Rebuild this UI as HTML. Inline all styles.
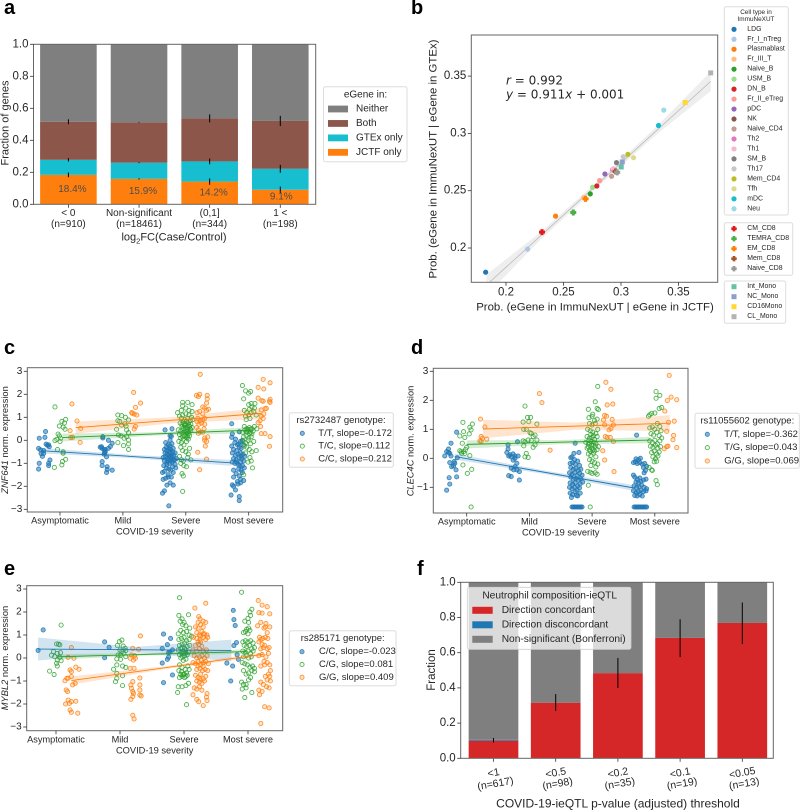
<!DOCTYPE html>
<html lang="en">
<head>
<meta charset="utf-8">
<title>Multi-panel eGene and ieQTL figure</title>
<style>
html,body{margin:0;padding:0;background:#fff;}
svg{display:block;font-family:"Liberation Sans",Arial,sans-serif;}
text{fill:#262626;}
.letter{font-weight:700;font-size:20px;fill:#000;}
</style>
</head>
<body>
<svg id="figure" xmlns="http://www.w3.org/2000/svg" width="800" height="810" viewBox="0 0 800 810">
  <rect x="0" y="0" width="800" height="810" fill="#fff"/>
  <text class="letter" x="4" y="14">a</text>
  <text class="letter" x="411" y="14">b</text>
  <text class="letter" x="4" y="354">c</text>
  <text class="letter" x="411" y="354">d</text>
  <text class="letter" x="4" y="575">e</text>
  <text class="letter" x="417" y="575">f</text>
</svg>
<script>
/* ---------- panel a data ---------- */
const aCategories = ['< 0','Non-significant','(0,1]','1 <'];
const aCounts = ['(n=910)','(n=18461)','(n=344)','(n=198)'];
const aJctfOnly = [0.184,0.159,0.142,0.091];
const aGtexOnly = [0.094,0.101,0.126,0.131];
const aBoth = [0.238,0.253,0.269,0.299];
const aErrJctf = [0.015,0.004,0.02,0.02];
const aErrGtex = [0.011,0.003,0.018,0.025];
const aErrBoth = [0.015,0.002,0.025,0.032];
const aPercentLabels = ['18.4%','15.9%','14.2%','9.1%'];
const aTickLabels = ['0.0','0.2','0.4','0.6','0.8','1.0'];
const aTicks = [0,0.2,0.4,0.6,0.8,1];
const aLegend = ['Neither','Both','GTEx only','JCTF only'];

/* ---------- panel b data ---------- */
const bCellTypes = ['LDG','Fr_I_nTreg','Plasmablast','Fr_III_T','Naive_B','USM_B','DN_B','Fr_II_eTreg','pDC','NK','Naive_CD4','Th2','Th1','SM_B','Th17','Mem_CD4','Tfh','mDC','Neu'];
const bCellX = [.1823,.2188,.2431,.2677,.2733,.2753,.279,.2814,.286,.2947,.2918,.2927,.2933,.2961,.3019,.306,.3109,.3326,.3372];
const bCellY = [.1789,.199,.2278,.244,.2472,.253,.2541,.2588,.2646,.2672,.2626,.2684,.2692,.2745,.2797,.2817,.2788,.3069,.3203];
const bCd8Types = ['CM_CD8','TEMRA_CD8','EM_CD8','Mem_CD8','Naive_CD8'];
const bCd8X = [.2313,.2585,.2692,.2953,.2967];
const bCd8Y = [.2139,.231,.2429,.2669,.266];
const bMonoTypes = ['Int_Mono','NC_Mono','CD16Mono','CL_Mono'];
const bMonoX = [.3002,.3011,.3558,.378];
const bMonoY = [.2707,.2751,.327,.3528];
const bFitSlope = 0.911;
const bFitIntercept = 0.001;
const bFitRange = [.183,.378];
const bBandWidth = [.009,.0025,.0085];
const bTicks = [.2,.25,.3,.35];
const bTickLabels = ['0.2','0.25','0.3','0.35'];

/* ---------- panel c data ---------- */
const sevCategories = ['Asymptomatic','Mild','Severe','Most severe'];
const yTicks = [-3,-2,-1,0,1,2,3];
const yTickLabels = ['\u22123','\u22122','\u22121','0','1','2','3'];
const cBlue = [[-.33,.09],[-.23,.38],[-.24,.13],[-.34,-.35],[-.31,-.42],[-.26,-.45],[-.33,-1],[-.34,-1.25],[-.18,-.2],[-.17,-.28],[-.22,-.17],[-.28,-.7],[-.16,-.86],[-.18,-1],[-.18,-1.1],[-.26,-.57],[-.3,-.58],[-.2,-.22],
[.68,.16],[.68,.1],[.77,0],[.64,-.3],[.67,-.35],[.7,-.42],[.72,-.4],[.77,-.35],[.83,-.13],[.8,-.27],[.7,-.6],[.74,-.72],[.67,-.93],[.67,-1.1],[.75,-1.15],[.75,-1.27],[.74,-1.4],[.83,-1.3],[.71,-.55],[.66,-.28],[.72,-.5],
[1.67,.45],[1.78,.5],[1.75,.2],[1.77,.17],[1.63,-2.3],[1.66,-2.2],[1.73,-2.85],[1.64,-1.7],[1.68,-1.65],[1.75,-1.85],[1.8,-1.95],[1.7,-1.95],[1.63,-1.4],[1.66,-1.35],[1.72,-1.5],[1.77,-1.6],[1.8,-1.4],[1.84,-1.2],[1.65,-1.1],[1.69,-1.2],[1.73,-1.25],[1.76,-1.3],[1.79,-1.15],[1.83,-1.05],[1.66,-.9],[1.7,-.95],[1.74,-1],[1.78,-.95],[1.82,-.85],[1.85,-.8],[1.64,-.75],[1.68,-.7],[1.71,-.8],[1.75,-.75],[1.78,-.7],[1.81,-.65],[1.67,-.55],[1.7,-.6],[1.73,-.65],[1.76,-.55],[1.79,-.5],[1.83,-.55],[1.66,-.4],[1.7,-.45],[1.73,-.35],[1.76,-.4],[1.8,-.35],[1.72,-.2],[1.75,-.25],[1.78,-.15],[1.68,-.1],[1.75,0],[1.72,-.9],[1.77,-.85],[1.7,-1.05],[1.74,-.5],[1.72,-1.6],[1.8,-.9],[1.69,-.3],[1.76,-.7],
[2.73,.72],[2.74,.28],[2.73,.13],[2.85,.37],[2.72,-2.38],[2.79,-2.16],[2.85,-2.45],[2.85,-2.62],[2.74,-1.94],[2.76,-2],[2.82,-1.8],[2.87,-1.7],[2.92,-1.75],[2.76,-1.6],[2.8,-1.45],[2.85,-1.55],[2.9,-1.4],[2.76,-1.3],[2.84,-1.25],[2.88,-1.3],[2.93,-1.2],[2.74,-.95],[2.78,-1],[2.83,-1.05],[2.87,-.95],[2.92,-.9],[2.76,-.8],[2.8,-.85],[2.85,-.75],[2.89,-.8],[2.94,-.7],[2.74,-.55],[2.79,-.65],[2.83,-.6],[2.87,-.55],[2.91,-.6],[2.73,-.25],[2.76,-.4],[2.81,-.45],[2.85,-.3],[2.88,-.35],[2.92,-.2],[2.78,-.1],[2.84,-.15],[2.87,-.05],[2.9,0],[2.86,-1.1],[2.81,-.95],[2.9,-1.1],[2.82,-.2],[2.79,.05],[2.88,-.7],[2.83,-1.9],[2.87,-1.85]];
const cGreen = [[-.08,1.45],[.09,.91],[.03,.82],[.07,.75],[-.01,.62],[.05,.57],[.08,.48],[-.03,.27],[-.01,.19],[.01,.09],[-.05,.04],[-.08,-.01],[0,-.05],[-.04,-.4],[.05,-.5],[.05,-.56],[.09,-.83],[.04,-.92],[.03,-1.07],[-.09,-1.18],
[.92,1.1],[.98,1.07],[1.04,1],[.92,.85],[1.09,.88],[.98,.66],[1.05,.62],[.9,.48],[1.06,.45],[1.09,.33],[.93,.23],[.97,.19],[1.06,.16],[1.02,.09],[1.09,.01],[.92,-.1],[1.01,-.23],[1.09,-.16],[1.09,-.4],[.95,.82],[1.03,.72],
[1.95,1.65],[2.03,1.65],[1.95,1.5],[2.1,1.55],[1.87,1.2],[1.93,1.3],[2,1.4],[2.05,1.3],[2.1,1.25],[1.9,1.05],[1.95,1.1],[2,1.15],[2.05,1.1],[2.09,1],[1.93,.95],[1.98,.9],[2.03,.95],[2.07,.85],[2.11,.9],[1.91,.75],[1.96,.8],[2,.7],[2.04,.75],[2.08,.7],[1.94,.6],[1.98,.65],[2.02,.55],[2.06,.6],[2.1,.55],[1.88,.45],[1.92,.4],[1.96,.5],[2,.45],[2.04,.4],[2.08,.45],[1.9,.25],[1.94,.3],[1.98,.2],[2.02,.3],[2.06,.2],[1.92,.1],[1.96,.05],[2,.15],[2.04,.05],[1.89,-.05],[1.93,-.1],[1.97,-.2],[2.01,-.05],[1.92,-.3],[1.95,-.45],[2.06,-.35],[2,-.5],[2.04,-.6],[1.9,-.7],[1.93,-.85],[2.08,-.85],[2.03,-.75],[1.96,-.9],[1.97,-1.1],[1.92,-1],[2.01,-1.15],[1.94,-1.45],[1.96,-1.55],[1.95,-2.22],[1.97,.72],[2.01,.82],[2.05,.66],[1.99,.55],[2.03,.48],[1.97,.36],[2.01,.38],[2.05,.3],[1.95,.15],[2.03,.18],[1.99,.68],[2.07,.5],[1.94,.7],[2.02,.1],
[2.9,2.38],[2.95,2.15],[3,2.05],[3.03,2.12],[2.92,1.8],[3,1.55],[3.04,1.6],[3.1,1.6],[2.93,1.3],[2.97,1.2],[3.01,1.35],[3.05,1.45],[3.09,1.4],[2.95,1.05],[3,1.1],[3.04,1.2],[3.08,1.25],[3.12,1.1],[2.96,.9],[3.02,.95],[2.93,.6],[2.97,.5],[3.01,.55],[3.05,.5],[3.09,.6],[3.13,.5],[2.9,.35],[2.94,.45],[2.98,.4],[3.03,.35],[3.07,.4],[2.92,.15],[2.96,.2],[3,.1],[3.04,.15],[2.91,-.05],[2.95,-.1],[2.99,0],[3.03,-.15],[3.08,-.05],[2.93,-.25],[2.97,-.3],[3.01,-.4],[3.05,-.5],[2.95,-.55],[3.12,-.45],[2.99,-.95],[3.04,-.9],[3.06,-1.2],[2.92,-1.5],[3.02,-.75],[2.99,.47],[3.03,.48],[2.97,.35],[3.01,.3],[3.05,.28]];
const cOrange = [[.19,1.58],[.27,.84],[.16,.42],[.33,.52],[.2,.13],[.17,.12],[.32,-.09],
[1.17,2.08],[1.28,1.62],[1.2,1.43],[1.15,1.17],[1.18,1.14],[1.22,1.1],[1.14,1.2],[1.2,.6],[1.18,.49],
[2.23,2.87],[2.22,2],[2.17,1.95],[2.2,1.9],[2.34,1.95],[2.34,1.8],[2.33,1.62],[2.27,1.45],[2.3,1.4],[2.36,1.35],[2.33,1.3],[2.18,1.2],[2.22,1.25],[2.27,1.15],[2.19,.95],[2.23,.85],[2.27,.9],[2.3,.95],[2.18,.8],[2.21,.7],[2.25,.75],[2.3,.7],[2.17,.55],[2.2,.45],[2.23,.35],[2.27,.35],[2.29,.5],[2.35,.15],[2.3,0],[2.33,-.05],[2.31,-.25],[2.19,-.52],[2.33,-.82],[2.22,-1.28],[2.3,.1],[2.2,.3],
[3.23,2.65],[3.34,2.5],[3.15,2.3],[3.24,2.23],[3.15,1.83],[3.21,1.72],[3.23,1.7],[3.34,1.78],[3.33,1.7],[3.34,1.65],[3.2,1.32],[3.28,1.39],[3.26,1.37],[3.2,1.05],[3.23,.95],[3.15,.77],[3.19,.6],[3.2,.29],[3.26,.29],[3.34,.16],[3.33,-.26],[3.18,.85],[3.24,1.15]];
const cLineBlue = [-.3,-.45,2.72,-.98];
const cLineGreen = [.04,.12,3.02,.44];
const cLineOrange = [.25,.55,3.2,1.17];
const cBandBlue = [.12,.07,.13];
const cBandGreen = [.17,.07,.13];
const cBandOrange = [.27,.13,.24];

/* ---------- panel d data ---------- */
const dYTicks = [-1,0,1,2,3];
const dYTickLabels = ['\u22121','0','1','2','3'];
const dBlue = [[-.16,.9],[-.25,.52],[-.29,.32],[-.32,.23],[-.35,.08],[-.27,.17],[-.25,.08],[-.15,.02],[-.27,-.15],[-.2,-.11],[-.21,-.26],[-.24,-.29],[-.17,-.4],[-.28,-.67],[-.16,-.64],[-.27,-.89],[-.32,-1.1],[-.29,.2],[-.19,-.17],
[.81,.57],[.66,.46],[.66,.32],[.64,.2],[.67,.08],[.74,.15],[.77,.08],[.82,.08],[.71,.05],[.74,-.06],[.77,0],[.8,-.17],[.77,-.29],[.71,-.34],[.8,-.4],[.84,-.46],[.67,-.6],[.71,-.63],[.84,-.75],[.75,-.4],[.69,.12],
[1.73,.52],[1.79,.2],[1.71,.17],[1.68,.05],[1.66,.02],[1.72,-.05],[1.65,-.18],[1.69,-.15],[1.73,-.2],[1.77,-.1],[1.8,-.25],[1.66,-.32],[1.7,-.38],[1.74,-.35],[1.78,-.42],[1.82,-.38],[1.64,-.5],[1.68,-.55],[1.72,-.5],[1.76,-.6],[1.8,-.52],[1.84,-.58],[1.66,-.65],[1.7,-.72],[1.74,-.7],[1.78,-.75],[1.82,-.7],[1.65,-.85],[1.69,-.9],[1.73,-.85],[1.77,-.95],[1.81,-.88],[1.85,-.82],[1.64,-1],[1.68,-1.05],[1.72,-1],[1.76,-1.1],[1.8,-1.02],[1.65,-1.2],[1.69,-1.25],[1.73,-1.15],[1.77,-1.3],[1.81,-1.2],[1.67,-1.35],[1.75,-1.28],[1.68,-1.68],[1.7,-1.68],[1.72,-1.68],[1.74,-1.68],[1.76,-1.68],[1.78,-1.68],[1.8,-1.68],[1.82,-1.68],[1.84,-1.68],
[2.71,.8],[2.7,-.02],[2.74,-.05],[2.77,0],[2.66,-.15],[2.69,-.12],[2.72,-.18],[2.76,-.15],[2.8,-.2],[2.84,-.18],[2.87,-.28],[2.82,-.32],[2.85,-.42],[2.83,-.5],[2.66,-.58],[2.68,-.65],[2.72,-.72],[2.76,-.68],[2.7,-.82],[2.74,-.85],[2.78,-.8],[2.82,-.75],[2.86,-.72],[2.67,-.95],[2.71,-1],[2.75,-.98],[2.79,-.92],[2.83,-1],[2.87,-1.05],[2.66,-1.12],[2.7,-1.18],[2.74,-1.15],[2.78,-1.1],[2.82,-1.15],[2.86,-1.12],[2.68,-1.28],[2.72,-1.3],[2.76,-1.25],[2.8,-1.3],[2.67,-1.68],[2.69,-1.68],[2.71,-1.68],[2.73,-1.68],[2.75,-1.68],[2.77,-1.68],[2.79,-1.68],[2.81,-1.68],[2.83,-1.68],[2.85,-1.68],[2.87,-1.68]];
const dGreen = [[-.06,1.24],[.09,1.18],[.05,1.07],[.07,.98],[-.05,.92],[-.11,.77],[-.03,.72],[.04,.84],[-.07,.52],[0,.38],[-.11,.26],[-.05,.23],[-.03,.17],[-.08,.17],[.05,.09],[-.06,-.23],[.08,-.38],[.01,-.52],[.07,-1.68],[-.09,.22],[-.02,.3],
[.93,1.8],[.9,1.25],[.97,1.41],[1.02,1.41],[.99,1.26],[1.12,1.18],[.91,1],[.95,1],[1.01,.88],[1.03,.86],[1.06,.75],[1.09,.8],[.9,.6],[.93,.57],[.98,.63],[1.03,.61],[1.12,.63],[1.09,.46],[1.06,.38],[.91,.43],[.95,.17],[.98,.03],[.93,.05],
[2.09,2.48],[2.05,1.95],[2.08,1.72],[2.1,1.68],[1.94,1.69],[2.01,1.52],[1.95,1.4],[2,1.45],[2.04,1.3],[2.08,1.35],[1.96,1.2],[2,1.15],[2.05,1.2],[2.09,1],[1.93,1],[1.97,.95],[2.01,.9],[2.06,.85],[1.92,.75],[1.96,.7],[2,.72],[2.04,.65],[2.08,.75],[1.9,.55],[1.94,.5],[1.98,.58],[2.02,.45],[2.06,.5],[2.1,.4],[1.92,.35],[1.96,.3],[2,.35],[2.04,.25],[2.08,.3],[1.94,.15],[1.98,.1],[2.02,.18],[2.06,.05],[1.96,-.05],[2,-.1],[2.04,-.15],[2.09,-.2],[1.98,-.25],[2.06,-.3],[1.93,-.45],[1.97,-.48],[2,-.52],[2.05,-.5],[2.08,-.55],[1.94,-.93],[1.97,-1.68],[1.95,.62],[1.99,.45],[2.03,.55],[1.97,.24],[2.01,.28],[1.94,.4],[1.98,.82],[2.02,.78],[2.05,.42],[1.96,.52],
[3.02,2.3],[3.08,2.17],[3.02,2.07],[2.92,1.5],[2.95,1.55],[3.07,1.72],[3.11,1.75],[3,1.56],[2.9,1.45],[3.04,1.2],[3.08,1.1],[2.92,1.05],[2.96,1.08],[3,1],[3.1,.95],[2.94,.85],[2.98,.8],[3.03,.9],[3.07,.78],[3.11,.7],[2.92,.6],[2.96,.55],[3,.62],[3.04,.5],[3.08,.6],[2.93,.42],[2.97,.38],[3.01,.45],[3.05,.35],[3.09,.4],[2.95,.2],[2.99,.25],[3.03,.15],[3.07,.22],[2.97,.05],[3.01,-.02],[3.05,.08],[2.99,-.12],[3.03,-.1],[2.91,-.32],[2.95,-.4],[2.96,-.42],[3.02,-.77],[3.04,-.91]];
const dOrange = [[.22,1.35],[.29,1.08],[.23,.75],[.25,.69],[.21,.6],[.23,.58],[.32,.66],
[1.16,2.23],[1.2,1.92],[1.33,.28],
[2.22,2.62],[2.3,2.38],[2.24,1.84],[2.33,1.87],[2.2,1.48],[2.23,1.45],[2.18,1.32],[2.32,1.34],[2.34,1.15],[2.2,1.15],[2.3,1.03],[2.27,.98],[2.21,.75],[2.24,.72],[2.29,.72],[2.34,.58],[2.17,.26],[2.2,-.06],[2.35,-.46],
[3.23,2.86],[3.26,2.11],[3.2,1.99],[3.35,2.02],[3.16,1.63],[3.31,1.28],[3.22,1.24],[3.3,.79],[3.19,.93],[3.29,.64],[3.19,.4],[3.15,.33],[3.35,.37],[3.21,.42]];
const dLineBlue = [-.19,.06,2.66,-1.02];
const dLineGreen = [0,.48,2.93,.63];
const dLineOrange = [.26,1.01,3.24,1.21];
const dBandBlue = [.1,.06,.1];
const dBandGreen = [.14,.07,.11];
const dBandOrange = [.32,.12,.28];

/* ---------- panel e data ---------- */
const eBlue = [[-.2,1.22],[-.28,.33],[.76,.7],[.83,.46],[.76,.01],
[1.68,1.04],[1.79,.85],[1.74,.58],[1.66,.41],[1.82,.35],[1.78,.26],[1.76,.23],[1.76,.04],[1.66,-.22],[1.74,-.06],[1.82,-.74],[1.68,-1.07],
[2.77,2.07],[2.78,1.67],[2.8,1.41],[2.82,.67],[2.78,.54],[2.83,.14],[2.85,-.06],[2.67,-.22],[2.76,-.35],[2.73,-1]];
const eGreen = [[.08,1.43],[.01,.61],[.04,.6],[.06,.57],[-.04,.28],[.02,.2],[.07,.23],[-.07,.12],[-.02,.06],[.06,.03],[.02,-.09],[.08,-.12],[.01,-.23],[.02,-.35],[-.1,-.57],[-.03,-.72],
[1.03,.78],[.99,.71],[.96,.54],[1.05,.52],[1.08,.42],[1,.35],[1.03,.28],[1.09,.32],[.97,.13],[1.01,.13],[1.06,.2],[1.09,.06],[.95,-.04],[1.01,-.06],[.95,-.3],[1.04,-.35],[1.09,-.41],[.9,-.49],[.95,-.67],[1.04,-.77],[.95,-.88],[.93,-1.03],[1.04,-1.2],
[1.93,2.62],[1.92,1.85],[1.97,1.7],[2.07,1.88],[1.94,1.6],[2,1.55],[2.03,1.4],[2.09,1.3],[1.98,1.45],[1.91,1.05],[1.95,1.2],[1.99,1.1],[2.04,1.15],[2.08,1],[2.12,.95],[1.92,.8],[1.96,.85],[2,.9],[2.04,.75],[2.08,.8],[1.93,.55],[1.97,.6],[2.01,.65],[2.05,.5],[2.09,.55],[1.91,.35],[1.95,.4],[1.99,.3],[2.03,.35],[2.07,.25],[1.93,.15],[1.97,.2],[2.01,.1],[2.05,.15],[1.95,0],[1.99,-.1],[2.03,-.05],[1.93,-.3],[1.97,-.4],[2.02,-.5],[2.06,-.35],[1.92,-.55],[1.96,-.6],[2,-.7],[2.04,-.65],[2.08,-.5],[1.93,-.85],[1.97,-.8],[2.01,-.85],[2.05,-.75],[1.91,-1.25],[1.97,-1.25],[2.07,-1.1],[2.03,-1.2],[1.9,-1.5],[2.04,-2.03],[1.97,.45],[2.01,.42],[2,.2],[2.03,.22],[1.97,.08],[1.95,-.72],[1.99,-.72],[2.03,-.8],
[2.9,2.86],[3.06,2.12],[3.03,2],[3,1.72],[2.95,1.6],[3.01,1.55],[3.04,1.85],[2.98,1.25],[3.01,1.3],[2.93,1.1],[2.96,1.15],[3,1.05],[3.03,1.2],[2.92,.7],[2.96,.75],[3,.7],[3.04,.75],[3.08,.65],[2.94,.55],[2.98,.5],[3.02,.55],[3.06,.4],[3.1,.45],[2.92,.3],[2.96,.25],[3,.3],[3.04,.2],[3.08,.3],[2.93,.05],[2.97,.1],[3.01,0],[3.05,.05],[2.91,-.2],[2.95,-.25],[2.99,-.3],[3.03,-.4],[3.07,-.35],[3.1,-.45],[2.93,-.55],[2.97,-.7],[3.01,-.65],[3.06,-.55],[3.1,-.6],[3.04,-.85],[2.9,-1.05],[2.93,-1.15],[2.97,-1.15],[2.91,-1.35],[2.97,-1.3],[3.06,-1.5],[2.95,-1.72],[3.01,-.95]];
const eOrange = [[.24,.45],[.19,.03],[.28,-.01],[.22,-.52],[.31,-.4],[.36,-.49],[.24,-.59],[.17,-.88],[.19,-.88],[.24,-.81],[.14,-.99],[.3,-1.1],[.26,-1.17],[.16,-1.39],[.18,-1.46],[.19,-1.83],[.24,-1.9],[.15,-2],[.21,-1.97],[.31,-1.88],[.22,-2.26],[.24,-2.36],[.34,-2.4],
[1.32,.96],[1.2,.42],[1.29,.38],[1.18,.13],[1.23,.1],[1.16,-.01],[1.21,-.09],[1.24,-.01],[1.16,-.45],[1.22,-.45],[1.31,-.87],[1.2,-1.03],[1.17,-1.17],[1.18,-1.32],[1.31,-1.17],[1.31,-1.39],[1.2,-1.46],[1.21,-1.54],[1.31,-1.61],[1.33,-1.65],[1.17,-1.8],[1.2,-1.68],[1.2,-2.49],[1.22,-2.65],
[2.17,2.17],[2.34,2.38],[2.23,1.8],[2.25,1.7],[2.22,1.55],[2.3,1.6],[2.18,1.35],[2.22,1.3],[2.26,1.45],[2.3,1.35],[2.34,1.55],[2.2,1.1],[2.24,1],[2.28,1.15],[2.32,1.05],[2.36,1],[2.15,.9],[2.2,.85],[2.25,.8],[2.3,.9],[2.34,.8],[2.37,.9],[2.18,.55],[2.23,.6],[2.28,.5],[2.14,.35],[2.2,.3],[2.24,.4],[2.3,.3],[2.35,.35],[2.16,.1],[2.2,0],[2.24,.05],[2.28,.1],[2.32,0],[2.36,.1],[2.14,-.2],[2.18,-.25],[2.22,-.15],[2.26,-.3],[2.3,-.2],[2.34,-.15],[2.38,-.25],[2.2,-.5],[2.25,-.45],[2.29,-.55],[2.33,-.5],[2.37,-.55],[2.18,-.75],[2.22,-.85],[2.26,-.7],[2.3,-.9],[2.34,-.8],[2.2,-1],[2.24,-1.05],[2.28,-1.1],[2.32,-1],[2.16,-1.3],[2.2,-1.35],[2.24,-1.25],[2.28,-1.4],[2.14,-1.6],[2.36,-1.55],[2.35,-1.7],[2.2,-1.8],[2.23,-1.9],[2.36,-1.85],[2.3,-2.07],[2.26,.95],[2.3,1.05],[2.22,.7],[2.26,.7],[2.22,-.35],[2.27,-.1],[2.3,-.35],[2.25,-.9],
[3.16,2.5],[3.22,2.3],[3.3,2.23],[3.17,1.97],[3.22,1.95],[3.34,1.92],[3.2,1.55],[3.15,1.4],[3.28,1.5],[3.25,1.3],[3.3,1.1],[3.34,1.35],[3.27,1.35],[3.18,.9],[3.2,.8],[3.23,.85],[3.27,.9],[3.31,.85],[3.17,.7],[3.22,.6],[3.26,.55],[3.2,.4],[3.24,.45],[3.3,.4],[3.33,.45],[3.17,.1],[3.22,.15],[3.28,.05],[3.32,.2],[3.25,-.15],[3.3,-.2],[3.34,-.3],[3.2,-.35],[3.26,-.3],[3.35,-.55],[3.32,-.7],[3.34,-.8],[3.27,-.8],[3.3,-.95],[3.35,-1],[3.2,-1.05],[3.24,-1.15],[3.29,-1.25],[3.33,-1.3],[3.17,-1.4],[3.22,-1.45],[3.18,-1.6],[3.26,-2.12],[3.33,-2.17],[3.2,-2.85]];
const eLineBlue = [-.28,.39,2.74,.33];
const eLineGreen = [.01,.05,2.98,.28];
const eLineOrange = [.24,-.98,3.24,.16];
const eBandBlue = [.5,.12,.47];
const eBandGreen = [.12,.05,.1];
const eBandOrange = [.18,.06,.08];

/* ---------- panel f data ---------- */
const fThresholds = ['<1','<0.5','<0.2','<0.1','<0.05'];
const fCounts = ['(n=617)','(n=98)','(n=35)','(n=19)','(n=13)'];
const fConcordant = [.1,.316,.484,.684,.769];
const fDisconcordant = [.005,0,0,0,0];
const fErrLow = [.09,.27,.4,.575,.65];
const fErrHigh = [.115,.365,.57,.79,.885];
const fTicks = [0,.2,.4,.6,.8,1];
const fTickLabels = ['0.0','0.2','0.4','0.6','0.8','1.0'];
const fLegend = ['Direction concordant','Direction disconcordant','Non-significant (Bonferroni)'];

/* ---------- helpers ---------- */
const SVGNS = 'http://www.w3.org/2000/svg';
const fig = document.getElementById('figure');
function mk(parent, tag, attrs, txt) {
  const el = document.createElementNS(SVGNS, tag);
  for (const k in attrs) el.setAttribute(k, attrs[k]);
  if (txt !== undefined) el.textContent = txt;
  parent.appendChild(el);
  return el;
}
function panel(name) {
  const g = mk(fig, 'g', {});
  
  
  return g;
}
const SPINE = '#666';
const C = {grey:'#7f7f7f',brown:'#8c564b',cyan:'#17becf',orange:'#ff7f0e',red:'#d62728',blue:'#1f77b4',green:'#2ca02c'};
function spines(g, x0, y0, x1, y1) {
  const el = mk(g, 'rect', {x:x0,y:y0,width:x1-x0,height:y1-y0,fill:'none',stroke:SPINE,'stroke-width':1});
  
  
}
function yAxis(g, scale, ticks, labels, x0, size) {
  ticks.forEach((t, i) => {
    const tk = mk(g, 'line', {x1:x0-3.5,x2:x0,y1:scale(t),y2:scale(t),stroke:'#333','stroke-width':.8});
    
    
    const lb = mk(g, 'text', {x:x0-5,y:scale(t),'text-anchor':'end','dominant-baseline':'central','font-size':size}, labels[i]);
    
    
  });
}
function xTick(g, x, y0) {
  const tk = mk(g, 'line', {x1:x,x2:x,y1:y0,y2:y0+3.5,stroke:'#333','stroke-width':.8});
  
  
}
function label(g, txt, x, y, size, anchor) {
  return mk(g, 'text', {x:x,y:y,'text-anchor':anchor||'middle','dominant-baseline':'central','font-size':size}, txt);
}
function legendBox(g, x0, y0, x1, y1) {
  const r = mk(g, 'rect', {x:x0,y:y0,width:x1-x0,height:y1-y0,rx:2,fill:'#fff',stroke:'#ddd','stroke-width':1});
  
  
}

/* ---------- panel a ---------- */
(function(){
  const g = panel('panel-a-stacked-bars');
  const xA = i => 68.4 + 70.63*i;
  const yA = v => 204.3 - 160*v;
  const bw = 56.6;
  aCategories.forEach((cat, i) => {
    const a = aJctfOnly[i], b = a + aGtexOnly[i], c = b + aBoth[i];
    const segs = [[0,a,C.orange,'jctf-only'],[a,b,C.cyan,'gtex-only'],[b,c,C.brown,'both'],[c,1,C.grey,'neither']];
    segs.forEach(s => {
      const r = mk(g, 'rect', {x:xA(i)-bw/2,y:yA(s[1]),width:bw,height:yA(s[0])-yA(s[1]),fill:s[2]});
      
      
    });
    [[a,aErrJctf[i]],[b,aErrGtex[i]],[c,aErrBoth[i]]].forEach(e => {
      const l = mk(g, 'line', {x1:xA(i),x2:xA(i),y1:yA(e[0]-e[1]),y2:yA(e[0]+e[1]),stroke:'#000','stroke-width':1});
      
      
    });
    const pct = label(g, aPercentLabels[i], xA(i)+(i===3?1:4), yA(a/2), 10);
    pct.style.fill = '#4d4d4d';
    
    
    xTick(g, xA(i), 204.3);
    const t1 = label(g, cat, xA(i), 213.3, 10);
    
    
    const t2 = label(g, aCounts[i], xA(i), 224.5, 10);
    
    
  });
  spines(g, 33.5, 44.3, 315.7, 204.3);
  yAxis(g, yA, aTicks, aTickLabels, 33.5, 11.5);
  const xt = mk(g, 'text', {x:174,y:237.5,'text-anchor':'middle','dominant-baseline':'central','font-size':11});
  
  
  mk(xt, 'tspan', {}, 'log');
  mk(xt, 'tspan', {'font-size':7.5,dy:3}, '2');
  mk(xt, 'tspan', {dy:-3}, 'FC(Case/Control)');
  const yt = mk(g, 'text', {transform:'translate(5.5,123) rotate(-90)','text-anchor':'middle','dominant-baseline':'central','font-size':11}, 'Fraction of genes');
  
  
  legendBox(g, 323.5, 86.7, 407, 161.7);
  const lt = label(g, 'eGene in:', 365.5, 95, 10);
  
  
  const lc = [C.grey,C.brown,C.cyan,C.orange];
  aLegend.forEach((n, i) => {
    const yy = 109 + i*14.45;
    const sw = mk(g, 'rect', {x:328,y:yy-3.4,width:20,height:6.8,fill:lc[i]});
    
    
    const tx = label(g, n, 356, yy, 10, 'start');
    
    
  });
})();

/* ---------- panel b ---------- */
(function(){
  const g = panel('panel-b-scatter');
  const xB = v => 506 + (v-.2)*1150;
  const yB = v => 248 - (v-.2)*1146;
  const x0=471.3, x1=717.7, y0=35, y1=282.3;
  const clip = mk(g, 'clipPath', {id:'clipB'});
  mk(clip, 'rect', {x:x0,y:y0,width:x1-x0,height:y1-y0});
  const f = v => bFitSlope*v + bFitIntercept;
  const a = bFitRange[0], b = bFitRange[1], m = (a+b)/2;
  const top = [[a,f(a)+bBandWidth[0]],[.23,f(.23)+bBandWidth[1]*1.3],[m,f(m)+bBandWidth[1]],[.33,f(.33)+bBandWidth[1]*1.3],[b,f(b)+bBandWidth[2]]];
  const bot = [[b,f(b)-bBandWidth[2]],[.33,f(.33)-bBandWidth[1]*1.3],[m,f(m)-bBandWidth[1]],[.23,f(.23)-bBandWidth[1]*1.3],[a,f(a)-bBandWidth[0]]];
  const band = mk(g, 'polygon', {points:top.concat(bot).map(p => xB(p[0])+','+yB(p[1])).join(' '),fill:'#7f7f7f','fill-opacity':.13,'clip-path':'url(#clipB)'});
  
  
  const fit = mk(g, 'line', {x1:xB(a),y1:yB(f(a)),x2:xB(b),y2:yB(f(b)),stroke:'#b5b5b5','stroke-width':.7,'clip-path':'url(#clipB)'});
  
  
  const tab = ['#1f77b4','#aec7e8','#ff7f0e','#ffbb78','#2ca02c','#98df8a','#d62728','#ff9896','#9467bd','#8c564b','#c49c94','#e377c2','#f7b6d2','#7f7f7f','#c7c7c7','#bcbd22','#dbdb8d','#17becf','#9edae5'];
  const c8 = ['#e41a1c','#4daf4a','#ff7f00','#a65628','#999999'];
  const cm = ['#66c2a5','#8da0cb','#ffd92f','#b3b3b3'];
  function plus(px, py, s) {
    const a = s, w = s*.5;
    return [[-w,-a],[w,-a],[w,-w],[a,-w],[a,w],[w,w],[w,a],[-w,a],[-w,w],[-a,w],[-a,-w],[-w,-w]].map(p => (px+p[0])+','+(py+p[1])).join(' ');
  }
  bCellTypes.forEach((n, i) => {
    const d = mk(g, 'circle', {cx:xB(bCellX[i]),cy:yB(bCellY[i]),r:2.6,fill:tab[i]});
    
    
  });
  bCd8Types.forEach((n, i) => {
    const d = mk(g, 'polygon', {points:plus(xB(bCd8X[i]),yB(bCd8Y[i]),3),fill:c8[i]});
    
    
  });
  bMonoTypes.forEach((n, i) => {
    const d = mk(g, 'rect', {x:xB(bMonoX[i])-2.5,y:yB(bMonoY[i])-2.5,width:5,height:5,fill:cm[i]});
    
    
  });
  spines(g, x0, y0, x1, y1);
  yAxis(g, yB, bTicks, bTickLabels, x0, 11.5);
  bTicks.forEach((t, i) => {
    xTick(g, xB(t), y1);
    const l = label(g, bTickLabels[i], xB(t), 292.3, 11.5);
    
    
  });
  const xt = label(g, 'Prob. (eGene in ImmuNexUT | eGene in JCTF)', 595, 307.3, 11.4);
  
  
  const yt = mk(g, 'text', {transform:'translate(433.3,159) rotate(-90)','text-anchor':'middle','dominant-baseline':'central','font-size':11.4}, 'Prob. (eGene in ImmuNexUT | eGene in GTEx)');
  
  
  const an1 = mk(g, 'text', {x:506,y:80.7,'dominant-baseline':'central','font-size':12,style:'font-family:"DejaVu Sans",sans-serif'});
  
  
  mk(an1, 'tspan', {'font-style':'italic'}, 'r');
  mk(an1, 'tspan', {}, ' = 0.992');
  const an2 = mk(g, 'text', {x:506,y:94.7,'dominant-baseline':'central','font-size':12,style:'font-family:"DejaVu Sans",sans-serif'});
  
  
  mk(an2, 'tspan', {'font-style':'italic'}, 'y');
  mk(an2, 'tspan', {}, ' = 0.911');
  mk(an2, 'tspan', {'font-style':'italic'}, 'x');
  mk(an2, 'tspan', {}, ' + 0.001');

  legendBox(g, 724.3, 6.7, 788.3, 215);
  const t1 = label(g, 'Cell type in', 756, 12.3, 6.4);
  
  
  const t2 = label(g, 'ImmuNeXUT', 756, 19.6, 6.4);
  
  
  bCellTypes.forEach((n, i) => {
    const yy = 29.3 + i*9.97;
    const m = mk(g, 'circle', {cx:734,cy:yy,r:2.6,fill:tab[i]});
    
    
    const tx = label(g, n, 747.3, yy, 6.9, 'start');
    
    
  });
  legendBox(g, 724.3, 222.7, 792.7, 275.3);
  bCd8Types.forEach((n, i) => {
    const yy = 228.7 + i*10;
    const m = mk(g, 'polygon', {points:plus(734,yy,2.7),fill:c8[i]});
    
    
    const tx = label(g, n, 747.3, yy, 6.9, 'start');
    
    
  });
  legendBox(g, 724.3, 281, 785.7, 323.3);
  bMonoTypes.forEach((n, i) => {
    const yy = 286.7 + i*10;
    const m = mk(g, 'rect', {x:731.5,y:yy-2.5,width:5,height:5,fill:cm[i]});
    
    
    const tx = label(g, n, 747.3, yy, 6.9, 'start');
    
    
  });
})();

/* ---------- panels c, d, e ---------- */
function stripPanel(cfg) {
  const g = panel(cfg.name);
  const xS = v => cfg.xZero + v*cfg.xUnit;
  const yS = v => cfg.yZero - v*cfg.yUnit;
  const styles = [{c:C.blue,fo:.55},{c:C.green,fo:.05},{c:C.orange,fo:.22}];
  cfg.points.forEach((pts, k) => {
    pts.forEach(p => {
      const d = mk(g, 'circle', {cx:xS(p[0]),cy:yS(p[1]),r:2.1,fill:styles[k].c,'fill-opacity':styles[k].fo,stroke:styles[k].c,'stroke-opacity':.85,'stroke-width':.85});
      
      
    });
  });
  cfg.lines.forEach((ln, k) => {
    const hw = cfg.bands[k];
    const mx = (ln[0]+ln[2])/2, my = (ln[1]+ln[3])/2;
    const pts = [[ln[0],ln[1]+hw[0]],[mx,my+hw[1]],[ln[2],ln[3]+hw[2]],[ln[2],ln[3]-hw[2]],[mx,my-hw[1]],[ln[0],ln[1]-hw[0]]];
    const poly = mk(g, 'polygon', {points:pts.map(p => xS(p[0])+','+yS(p[1])).join(' '),fill:styles[k].c,'fill-opacity':.2});
    
    
    const l = mk(g, 'line', {x1:xS(ln[0]),y1:yS(ln[1]),x2:xS(ln[2]),y2:yS(ln[3]),stroke:styles[k].c,'stroke-width':.9});
    
    
  });
  spines(g, cfg.x0, cfg.y0, cfg.x1, cfg.y1);
  yAxis(g, yS, cfg.yTicks, cfg.yLabels, cfg.x0, 10);
  sevCategories.forEach((cat, i) => {
    xTick(g, xS(i), cfg.y1);
    const t = label(g, cat, xS(i), cfg.y1+8.7, 9.2);
    
    
  });
  const xt = label(g, 'COVID-19 severity', cfg.xTitleX, cfg.y1+19.7, 9.3);
  
  
  const yt = mk(g, 'text', {transform:'translate('+cfg.yTitleX+','+cfg.yTitleY+') rotate(-90)','text-anchor':'middle','dominant-baseline':'central','font-size':9.3});
  
  
  mk(yt, 'tspan', {'font-style':'italic'}, cfg.gene);
  mk(yt, 'tspan', {}, ' norm. expression');
  legendBox(g, cfg.lg[0], cfg.lg[1], cfg.lg[2], cfg.lg[3]);
  const lt = label(g, cfg.title, cfg.titleX, cfg.lg[1]+7.6, 9.5);
  
  
  cfg.legend.forEach((n, k) => {
    const yy = cfg.legY + k*cfg.legStep;
    const m = mk(g, 'circle', {cx:cfg.legMarkX,cy:yy,r:2.1,fill:styles[k].c,'fill-opacity':styles[k].fo,stroke:styles[k].c,'stroke-opacity':.85,'stroke-width':.85});
    
    
    const tx = label(g, n, cfg.legTextX, yy, 9.5, 'start');
    
    
  });
}
stripPanel({name:'panel-c-znf641',gene:'ZNF641',genotypes:['TT','TC','CC'],points:[cBlue,cGreen,cOrange],lines:[cLineBlue,cLineGreen,cLineOrange],bands:[cBandBlue,cBandGreen,cBandOrange],
  xZero:60,xUnit:62.9,yZero:440.3,yUnit:23,x0:27.3,x1:282.7,y0:367.7,y1:512,yTicks:yTicks,yLabels:yTickLabels,xTitleX:154.7,yTitleX:4.8,yTitleY:440,
  lg:[289.3,412.7,393.3,467.3],title:'rs2732487 genotype:',titleX:341,legend:['T/T, slope=-0.172','T/C, slope=0.112','C/C, slope=0.212'],legY:433.3,legStep:12.85,legMarkX:302.3,legTextX:318.3});
stripPanel({name:'panel-d-clec4c',gene:'CLEC4C',genotypes:['TT','TG','GG'],points:[dBlue,dGreen,dOrange],lines:[dLineBlue,dLineGreen,dLineOrange],bands:[dBandBlue,dBandGreen,dBandOrange],
  xZero:466.7,xUnit:62.7,yZero:458.3,yUnit:29,x0:433.3,x1:688,y0:368.3,y1:513,yTicks:dYTicks,yLabels:dYTickLabels,xTitleX:560.7,yTitleX:410.7,yTitleY:441,
  lg:[695,413.3,799.3,468.3],title:'rs11055602 genotype:',titleX:747.3,legend:['T/T, slope=-0.362','T/G, slope=0.043','G/G, slope=0.069'],legY:434.3,legStep:13.35,legMarkX:707.3,legTextX:724.3});
stripPanel({name:'panel-e-mybl2',gene:'MYBL2',genotypes:['CC','CG','GG'],points:[eBlue,eGreen,eOrange],lines:[eLineBlue,eLineGreen,eLineOrange],bands:[eBandBlue,eBandGreen,eBandOrange],
  xZero:56,xUnit:64,yZero:658,yUnit:23,x0:26.7,x1:282.7,y0:585.7,y1:730.7,yTicks:yTicks,yLabels:yTickLabels,xTitleX:154.7,yTitleX:5,yTitleY:658,
  lg:[289.3,630.7,396,685.7],title:'rs285171 genotype:',titleX:342.7,legend:['C/C, slope=-0.023','C/G, slope=0.081','G/G, slope=0.409'],legY:651.7,legStep:12.8,legMarkX:302,legTextX:319});

/* ---------- panel f ---------- */
(function(){
  const g = panel('panel-f-fraction-bars');
  const xF = i => 493.5 + 62.2*i;
  const yF = v => 758.3 - 176*v;
  const bw = 49.7;
  fThresholds.forEach((th, i) => {
    const a = fConcordant[i], b = a + fDisconcordant[i];
    const segs = [[0,a,C.red,'concordant'],[a,b,C.blue,'disconcordant'],[b,1,C.grey,'non-significant']];
    segs.forEach(s => {
      const r = mk(g, 'rect', {x:xF(i)-bw/2,y:yF(s[1]),width:bw,height:yF(s[0])-yF(s[1]),fill:s[2]});
      
      
    });
    const e = mk(g, 'line', {x1:xF(i),x2:xF(i),y1:yF(fErrLow[i]),y2:yF(fErrHigh[i]),stroke:'#000','stroke-width':1});
    
    
    xTick(g, xF(i), 758.3);
    const rg = mk(g, 'g', {transform:'rotate(-10 '+(xF(i)+1)+' 778.5)'});
    
    
    label(rg, th, xF(i)+1, 773, 10.5);
    label(rg, fCounts[i], xF(i)+1, 784, 10.5);
  });
  spines(g, 460.7, 582.3, 773.3, 758.3);
  yAxis(g, yF, fTicks, fTickLabels, 460.7, 11.5);
  const xt = label(g, 'COVID-19-ieQTL p-value (adjusted) threshold', 618, 803.5, 12);
  
  
  const yt = mk(g, 'text', {transform:'translate(432,670) rotate(-90)','text-anchor':'middle','dominant-baseline':'central','font-size':11.5}, 'Fraction');
  
  
  const box = mk(g, 'rect', {x:467.3,y:587.3,width:163.7,height:62,rx:2,fill:'#fff','fill-opacity':.72,stroke:'#cfcfcf','stroke-width':.8});
  
  
  const lt = label(g, 'Neutrophil composition-ieQTL', 549.7, 596, 10.2);
  
  
  const lc = [C.red,C.blue,C.grey];
  fLegend.forEach((n, i) => {
    const yy = 610.3 + i*14.5;
    const sw = mk(g, 'rect', {x:472.3,y:yy-3.5,width:20.4,height:7,fill:lc[i]});
    
    
    const tx = label(g, n, 501.7, yy, 10.2, 'start');
    
    
  });
})();
</script>
</body>
</html>
